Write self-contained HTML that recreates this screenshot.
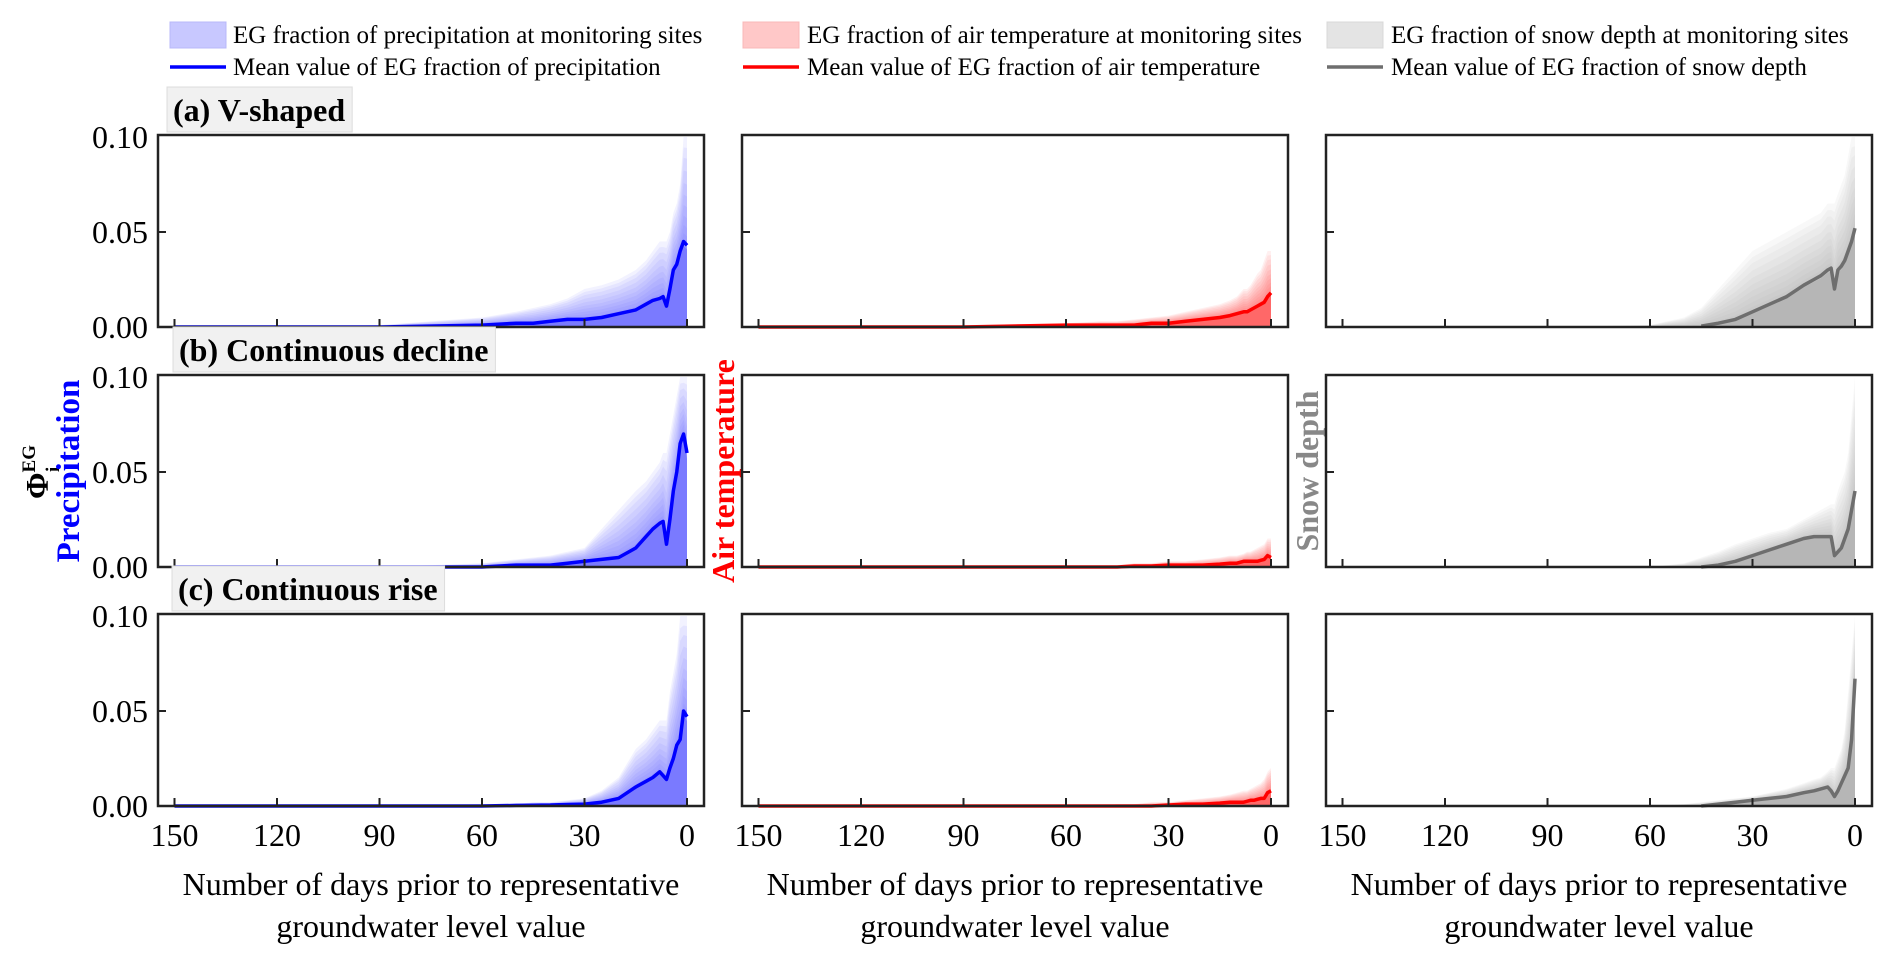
<!DOCTYPE html>
<html><head><meta charset="utf-8"><style>
html,body{margin:0;padding:0;background:#fff;}
svg{display:block;font-family:"Liberation Serif",serif;}
</style></head><body>
<svg id="chart" width="1892" height="962" viewBox="0 0 1892 962" xmlns="http://www.w3.org/2000/svg">
<g>
  <rect x="170" y="22" width="56" height="26" fill="#c8c8ff" stroke="#b8b8f8"/>
  <text x="233" y="43" font-size="25">EG fraction of precipitation at monitoring sites</text>
  <line x1="170" y1="67" x2="226" y2="67" stroke="#0000ff" stroke-width="3.5"/>
  <text x="233" y="75" font-size="25">Mean value of EG fraction of precipitation</text>
  <rect x="743" y="22" width="56" height="26" fill="#ffc8c8" stroke="#f8b8b8"/>
  <text x="807" y="43" font-size="25">EG fraction of air temperature at monitoring sites</text>
  <line x1="743" y1="67" x2="799" y2="67" stroke="#ff0000" stroke-width="3.5"/>
  <text x="807" y="75" font-size="25">Mean value of EG fraction of air temperature</text>
  <rect x="1327" y="22" width="56" height="26" fill="#e4e4e4" stroke="#d8d8d8"/>
  <text x="1391" y="43" font-size="25">EG fraction of snow depth at monitoring sites</text>
  <line x1="1327" y1="67" x2="1383" y2="67" stroke="#6e6e6e" stroke-width="3.5"/>
  <text x="1391" y="75" font-size="25">Mean value of EG fraction of snow depth</text>
</g>
<g>
  <text transform="translate(48,472) rotate(-90)" text-anchor="middle" font-size="32" font-weight="bold">Φ<tspan font-size="19" dy="-13">EG</tspan><tspan font-size="19" dx="-27" dy="24">i</tspan></text>
  <text transform="translate(79,471) rotate(-90)" text-anchor="middle" font-size="33" font-weight="bold" fill="#0000ff">Precipitation</text>
  <text transform="translate(734,471) rotate(-90)" text-anchor="middle" font-size="32" font-weight="bold" fill="#ff0000">Air temperature</text>
  <text transform="translate(1318,471) rotate(-90)" text-anchor="middle" font-size="32" font-weight="bold" fill="#888">Snow depth</text>
</g>
<g id="panels"></g>
</svg>
<script>
const days = [150,120,90,60,50,45,40,35,30,25,20,15,12,10,8,7,6,5,4,3,2,1,0];
const xTicks = [150,120,90,60,30,0];
const yTicks = [0, 0.05, 0.10];
const yTickLabels = ["0.00","0.05","0.10"];
const rowTitles = ["(a) V-shaped","(b) Continuous decline","(c) Continuous rise"];
const varNames = ["precip","temp","snow"];
const lineStartDay = [150,150,45];

const precipAMean = [0,0,0,0.001,0.002,0.002,0.003,0.004,0.004,0.005,0.007,0.009,0.012,0.014,0.015,0.016,0.011,0.02,0.03,0.033,0.04,0.045,0.043];
const precipAUpper = [0,0,0.001,0.005,0.008,0.01,0.012,0.015,0.02,0.022,0.025,0.03,0.035,0.04,0.045,0.045,0.045,0.05,0.06,0.065,0.075,0.1,0.1];
const precipBMean = [0,0,0,0,0.001,0.001,0.001,0.002,0.003,0.004,0.005,0.01,0.016,0.02,0.023,0.024,0.012,0.025,0.04,0.05,0.065,0.07,0.06];
const precipBUpper = [0,0,0,0.002,0.004,0.005,0.006,0.008,0.01,0.02,0.03,0.04,0.045,0.05,0.055,0.06,0.06,0.07,0.08,0.09,0.1,0.1,0.1];
const precipCMean = [0,0,0,0,0.0003,0.0004,0.0005,0.0008,0.001,0.002,0.004,0.01,0.013,0.015,0.018,0.016,0.014,0.02,0.025,0.032,0.035,0.05,0.047];
const precipCUpper = [0,0,0,0.001,0.001,0.002,0.002,0.003,0.004,0.008,0.015,0.03,0.035,0.04,0.045,0.045,0.045,0.06,0.07,0.08,0.1,0.1,0.1];
const tempAMean = [0,0,0,0.001,0.001,0.001,0.001,0.002,0.002,0.003,0.004,0.005,0.006,0.007,0.008,0.008,0.009,0.01,0.011,0.012,0.013,0.016,0.018];
const tempAUpper = [0,0.001,0.001,0.002,0.003,0.003,0.004,0.005,0.006,0.008,0.01,0.012,0.014,0.016,0.02,0.02,0.022,0.025,0.028,0.03,0.035,0.04,0.04];
const tempBMean = [0,0,0,0,0,0,0.0005,0.0005,0.001,0.001,0.001,0.0015,0.002,0.002,0.003,0.003,0.003,0.003,0.003,0.0035,0.004,0.006,0.005];
const tempBUpper = [0,0,0,0.001,0.001,0.001,0.002,0.002,0.003,0.003,0.004,0.005,0.006,0.006,0.007,0.008,0.008,0.009,0.01,0.011,0.012,0.015,0.015];
const tempCMean = [0,0,0,0,0,0,0,0,0.0005,0.001,0.001,0.0015,0.002,0.002,0.002,0.0025,0.003,0.003,0.0035,0.004,0.004,0.007,0.008];
const tempCUpper = [0,0,0,0,0,0.001,0.001,0.002,0.002,0.003,0.004,0.005,0.006,0.007,0.008,0.008,0.009,0.01,0.011,0.012,0.014,0.018,0.02];
const snowAMean = [0,0,0,0,0,0.0005,0.002,0.004,0.008,0.012,0.016,0.022,0.025,0.027,0.03,0.031,0.02,0.03,0.032,0.035,0.04,0.045,0.052];
const snowAUpper = [0,0,0,0.001,0.005,0.01,0.02,0.03,0.04,0.045,0.05,0.055,0.058,0.06,0.065,0.065,0.065,0.07,0.075,0.08,0.09,0.1,0.1];
const snowBMean = [0,0,0,0,0,0,0.001,0.003,0.006,0.009,0.012,0.015,0.016,0.016,0.016,0.016,0.006,0.008,0.01,0.015,0.02,0.03,0.04];
const snowBUpper = [0,0,0,0,0.002,0.005,0.008,0.012,0.015,0.018,0.02,0.025,0.028,0.03,0.032,0.033,0.033,0.04,0.045,0.05,0.06,0.08,0.1];
const snowCMean = [0,0,0,0,0,0,0.001,0.002,0.003,0.004,0.005,0.007,0.008,0.009,0.01,0.008,0.005,0.008,0.012,0.016,0.02,0.035,0.067];
const snowCUpper = [0,0,0,0,0.001,0.002,0.003,0.004,0.005,0.007,0.009,0.012,0.014,0.015,0.018,0.02,0.02,0.025,0.03,0.04,0.06,0.08,0.1];

const means = [[precipAMean,tempAMean,snowAMean],[precipBMean,tempBMean,snowBMean],[precipCMean,tempCMean,snowCMean]];
const uppers = [[precipAUpper,tempAUpper,snowAUpper],[precipBUpper,tempBUpper,snowBUpper],[precipCUpper,tempCUpper,snowCUpper]];

const NS = "http://www.w3.org/2000/svg";
const colLeft = [158,742,1326], panelW = 546;
const rowTop = [135,375,614], panelH = 192;
const lineCol = ["#0000ff","#ff0000","#6e6e6e"];
const bandCol = ["#4848ff","#ff3030","#9a9a9a"];
const boxX = [167,173,172];
function mk(tag, attrs, parent){const e=document.createElementNS(NS,tag);for(const k in attrs)e.setAttribute(k,attrs[k]);parent.appendChild(e);return e;}
const root = document.getElementById('panels');

for(let r=0;r<3;r++){
  const tg = mk('g',{},root);
  
  
  const t = mk('text',{x:boxX[r]+6,y:rowTop[r]-14,'font-size':32,'font-weight':'bold'},tg);
  t.textContent = rowTitles[r];
  const tw = t.getComputedTextLength ? t.getComputedTextLength() : rowTitles[r].length*15;
  const box = mk('rect',{x:boxX[r],y:rowTop[r]-48,width:tw+13,height:45,fill:'#f1f1f1',stroke:'#dcdcdc'},tg);
  tg.insertBefore(box,t);

  for(let c=0;c<3;c++){
    const L=colLeft[c], T=rowTop[r];
    const xs = d => L + 16.5 + (150-d)*(512.5/150);
    const ys = v => T + panelH - v/0.1*(panelH-2);
    const g = mk('g',{},root);
    
    
    const mean = means[r][c], up = uppers[r][c];
    const fr=[0.08,0.16,0.25,0.35,0.45,0.56,0.68,0.8,0.9,1.0];
    for(let k=fr.length-1;k>=0;k--){
      let p = 'M'+xs(days[0])+','+ys(0);
      days.forEach((d,i)=>{p+=' L'+xs(d)+','+ys(mean[i]+(up[i]-mean[i])*fr[k]);});
      p+=' L'+xs(0)+','+ys(0)+' Z';
      const b = mk('path',{d:p,fill:bandCol[c],'fill-opacity':0.07},g);
      
      
    }
    let pm = 'M'+xs(days[0])+','+ys(0);
    days.forEach((d,i)=>{pm+=' L'+xs(d)+','+ys(mean[i]*0.95);});
    pm+=' L'+xs(0)+','+ys(0)+' Z';
    const bm = mk('path',{d:pm,fill:bandCol[c],'fill-opacity':0.4},g);
    
    
    let pl='';
    days.forEach((d,i)=>{ if(d<=lineStartDay[c]) pl+=(pl?' L':'M')+xs(d)+','+ys(mean[i]); });
    const ln = mk('path',{d:pl,fill:'none',stroke:lineCol[c],'stroke-width':3.5,'stroke-linejoin':'round'},g);
    
    
    const fr2 = mk('rect',{x:L,y:T,width:panelW,height:panelH,fill:'none',stroke:'#222','stroke-width':2.5},g);
    
    
    xTicks.forEach(d=>{
      const tk = mk('line',{x1:xs(d),x2:xs(d),y1:T+panelH,y2:T+panelH-8,stroke:'#222','stroke-width':2},g);
      
      
      if(r===2){
        const tl = mk('text',{x:xs(d),y:T+panelH+40,'font-size':32,'text-anchor':'middle'},g);
        
        
        tl.textContent = d;
      }
    });
    yTicks.forEach((v,i)=>{
      if(i===1){
        const tk = mk('line',{x1:L,x2:L+8,y1:ys(v),y2:ys(v),stroke:'#222','stroke-width':2},g);
        
        
      }
      if(c===0){
        const tl = mk('text',{x:L-10,y:ys(v)+11,'font-size':32,'text-anchor':'end'},g);
        
        
        tl.textContent = yTickLabels[i];
      }
    });
    if(r===2){
      const cx = L+panelW/2;
      const a1 = mk('text',{x:cx,y:895,'font-size':32,'text-anchor':'middle'},g);
      
      
      a1.textContent='Number of days prior to representative';
      const a2 = mk('text',{x:cx,y:937,'font-size':32,'text-anchor':'middle'},g);
      
      
      a2.textContent='groundwater level value';
    }
  }
}
</script>
</body></html>
